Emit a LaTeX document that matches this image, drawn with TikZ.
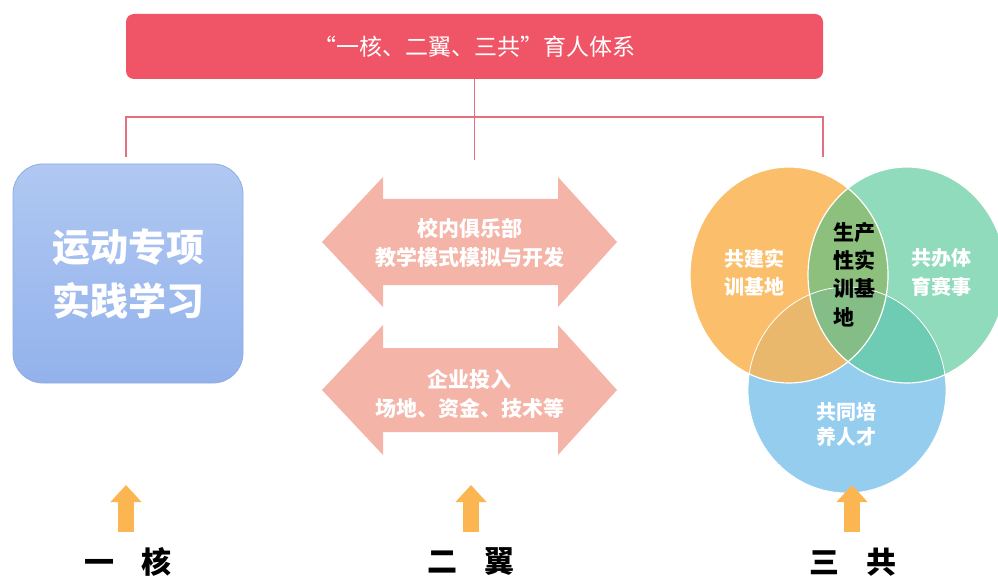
\documentclass[tikz,border=0pt]{standalone}
\usepackage{fontspec}
\newfontfamily\cjk{Noto Sans CJK SC}
\usetikzlibrary{arrows.meta}
\definecolor{titlered}{HTML}{EF5566}
\definecolor{linered}{HTML}{E3707F}
\definecolor{bluetop}{HTML}{B0C8F2}
\definecolor{bluebot}{HTML}{93B2EC}
\definecolor{blueedge}{HTML}{8EACE0}
\definecolor{wingc}{HTML}{F4B4A8}
\definecolor{vorange}{HTML}{FBBF6B}
\definecolor{vgreen}{HTML}{90DBBB}
\definecolor{vblue}{HTML}{95CDEE}
\definecolor{vob}{HTML}{E9B86C}
\definecolor{vgb}{HTML}{6ECBB4}
\definecolor{vog}{HTML}{8DC07C}
\definecolor{vogb}{HTML}{84BD86}
\definecolor{upc}{HTML}{FBB551}
\begin{document}
\begin{tikzpicture}[x=1pt,y=-1pt,
  redline/.style={draw=linered, line width=1.6pt},
  titlebox/.style={fill=titlered, rounded corners=8pt, minimum width=697pt, minimum height=65pt, inner sep=0pt, text=white, font=\cjk\fontsize{23}{27}\selectfont},
  corebox/.style={rounded corners=30pt, top color=bluetop, bottom color=bluebot, draw=blueedge, line width=0.8pt, minimum width=230pt, minimum height=219pt, text=white, align=center, font=\cjk\bfseries\fontsize{38}{54}\selectfont},
  wingshape/.style={fill=wingc},
  wingtext/.style={text=white, align=center, inner sep=0pt, font=\cjk\bfseries\fontsize{21}{29}\selectfont},
  venntext/.style={text=white, align=center, inner sep=0pt, font=\cjk\bfseries\fontsize{20}{28.5}\selectfont},
  labeltext/.style={text=black, inner sep=0pt, font=\cjk\bfseries\fontsize{30}{34}\selectfont},
  uparrow/.style={draw=upc, line width=16pt, -{Triangle[width=30pt,length=17pt]}},
  vennedge/.style={draw=white, line width=1.2pt}
]
\useasboundingbox (0,0) rectangle (998,577);

% title
\node[titlebox] (title) at (474.5,46.5) {“一核、二翼、三共”育人体系};

% connector tree
\coordinate (hL) at (126,117);
\coordinate (hR) at (823,117);
\coordinate (hM) at (474.5,160);
\coordinate (dL) at (126,157);
\coordinate (dR) at (823,157);
\draw[redline] (title.south) -- (hM);
\draw[redline] (dL) -- (hL) -- (hR) -- (dR);

% core box
\node[corebox] (core) at (128,273.5) {运动专项\\实践学习};

% wings (double arrows)
\path[wingshape] (322,242) -- (383,177) -- (383,199) -- (558,199) -- (558,177) -- (617,242)
  -- (558,307) -- (558,285) -- (383,285) -- (383,307) -- cycle;
\node[wingtext] (wing1) at (469.5,242.5) {校内俱乐部\\教学模式模拟与开发};
\path[wingshape] (322,390) -- (383,325) -- (383,348) -- (558,348) -- (558,325) -- (617,390)
  -- (558,455) -- (558,432) -- (383,432) -- (383,455) -- cycle;
\node[wingtext] (wing2) at (469.5,394) {企业投入\\场地、资金、技术等};

% venn
\def\orangeE{(789,275) ellipse [x radius=99, y radius=108]}
\def\greenE{(907,275) ellipse [x radius=99, y radius=108]}
\def\blueE{(847,390) ellipse [x radius=99, y radius=103]}
\fill[vblue] \blueE;
\fill[vorange] \orangeE;
\fill[vgreen] \greenE;
\begin{scope}
  \clip \blueE;
  \fill[vob] \orangeE;
  \fill[vgb] \greenE;
\end{scope}
\begin{scope}
  \clip \orangeE;
  \fill[vog] \greenE;
  \clip \greenE;
  \fill[vogb] \blueE;
\end{scope}
\draw[vennedge] \orangeE;
\draw[vennedge] \greenE;
\draw[draw=white, line width=0.8pt] \blueE;

\node[venntext] (v1) at (754,272.5) {共建实\\训基地};
\node[venntext] (v2) at (941,272.5) {共办体\\育赛事};
\node[venntext, font=\cjk\bfseries\fontsize{20}{25}\selectfont] (v3) at (846,424.5) {共同培\\养人才};
\node[venntext, text=black, align=left, font=\cjk\bfseries\fontsize{21}{28.4}\selectfont] (v0) at (854,274.5) {生产\\性实\\训基\\地};

% bottom labels
\node[labeltext] (lab1) at (128,562) {一\hspace{27pt}核};
\node[labeltext] (lab2) at (471,562) {二\hspace{27pt}翼};
\node[labeltext] (lab3) at (853,562) {三\hspace{27pt}共};

\coordinate (a1s) at (126,532); \coordinate (a1e) at (126,485);
\coordinate (a2s) at (471,532); \coordinate (a2e) at (471,485);
\coordinate (a3s) at (852,532); \coordinate (a3e) at (852,485);
\draw[uparrow] (a1s) -- (a1e);
\draw[uparrow] (a2s) -- (a2e);
\draw[uparrow] (a3s) -- (a3e);
\end{tikzpicture}
\end{document}
